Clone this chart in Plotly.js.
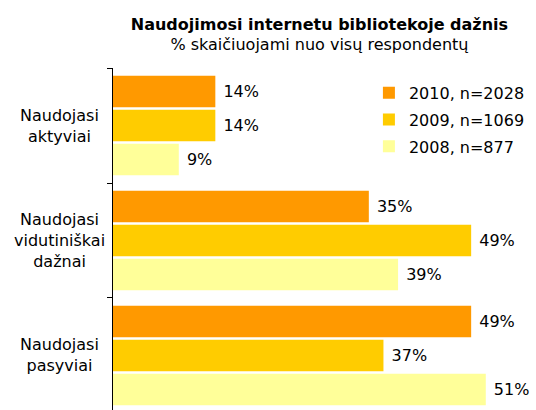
<!DOCTYPE html>
<html>
<head>
<meta charset="utf-8">
<script src="https://cdn.plot.ly/plotly-3.0.1.min.js"></script>
<style>html,body{margin:0;padding:0;background:#fff;}#chart{width:536px;height:410px;}</style>
</head>
<body>
<div id="chart"></div>
<script>
const categories = ["Naudojasi aktyviai", "Naudojasi vidutiniškai dažnai", "Naudojasi pasyviai"];
const categoryLabels = ["Naudojasi<br>aktyviai", "Naudojasi<br>vidutiniškai<br>dažnai", "Naudojasi<br>pasyviai"];
const seriesNames = ["2010, n=2028", "2009, n=1069", "2008, n=877"];
const values2010 = [14, 35, 49];
const values2009 = [14, 49, 37];
const values2008 = [9, 39, 51];
const seriesColors = ["#FF9900", "#FFCC00", "#FFFF99"];

const FONT = "DejaVu Sans, Verdana, sans-serif";
const allValues = [values2010, values2009, values2008];

const traces = allValues.map((vals, i) => ({
  type: "bar",
  orientation: "h",
  name: seriesNames[i],
  legendgroup: "g" + i,
  y: categories,
  x: vals,
  marker: {color: seriesColors[i], line: {width: 0}},
  text: vals.map(v => "\u00a0" + v + "%"),
  texttemplate: "%{text}",
  textposition: "outside",
  constraintext: "none",
  cliponaxis: false,
  textfont: {family: FONT, size: 16, color: "#000"},
  hoverinfo: "skip"
}));

const annotations = categories.map((c, i) => ({
  xref: "paper", yref: "y",
  x: -0.1253, y: c,
  xanchor: "center", yanchor: "middle",
  text: categoryLabels[i],
  align: "center",
  showarrow: false,
  font: {family: FONT, size: 16, color: "#000"}
}));

const layout = {
  width: 536, height: 410,
  margin: {l: 113, r: 0, t: 68, b: 0, pad: 0},
  paper_bgcolor: "#fff", plot_bgcolor: "#fff",
  barmode: "group",
  bargap: 0.113,
  bargroupgap: 0.08,
  showlegend: true,
  title: {
    text: "<b>Naudojimosi internetu bibliotekoje dažnis</b><br><span style='font-size:16px'>% skaičiuojami nuo visų respondentų</span>",
    font: {family: FONT, size: 16, color: "#000"},
    xref: "paper", x: 0.488, xanchor: "center",
    yref: "container", y: 0.928, yanchor: "top"
  },
  xaxis: {
    range: [0, 57.87],
    showgrid: false, zeroline: false, showline: false,
    showticklabels: false, ticks: ""
  },
  yaxis: {
    type: "category",
    range: [2.474, -0.5],
    showline: true, linecolor: "#000", linewidth: 1,
    ticks: "outside", tickson: "boundaries", ticklen: 5, tickcolor: "#000", tickwidth: 1,
    showticklabels: false, showgrid: false, zeroline: false
  },
  legend: {
    x: 0.605, y: 0.977, xanchor: "left", yanchor: "top",
    xref: "paper", yref: "paper",
    traceorder: "grouped",
    tracegroupgap: 3,
    bgcolor: "rgba(0,0,0,0)",
    font: {family: FONT, size: 16, color: "#000"}
  },
  annotations: annotations
};

Plotly.newPlot("chart", traces, layout, {displayModeBar: false, staticPlot: true});
</script>
</body>
</html>
